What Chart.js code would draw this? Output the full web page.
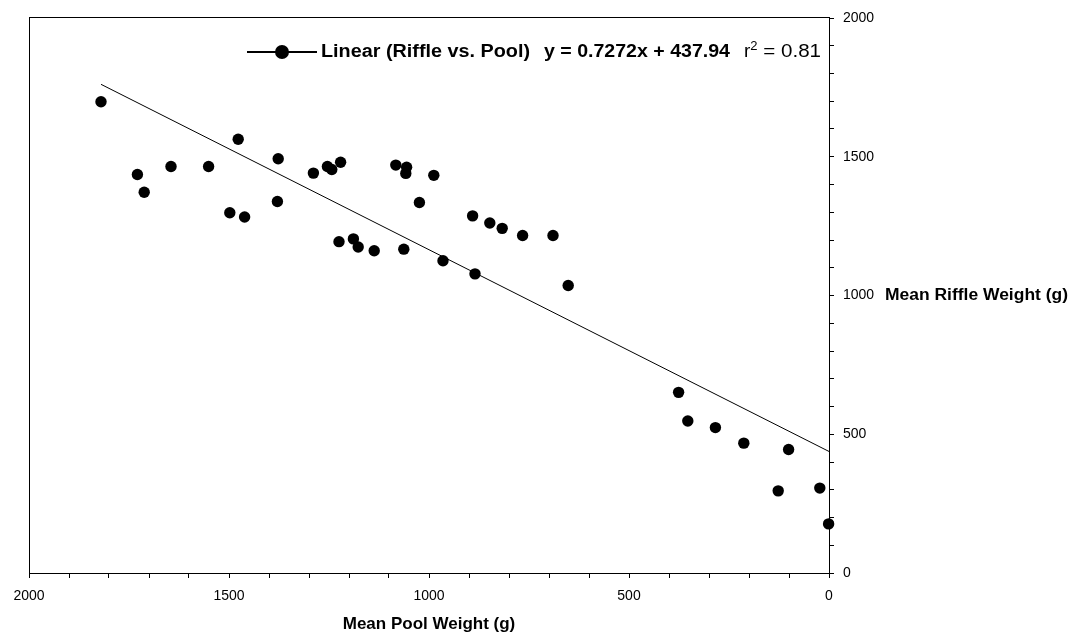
<!DOCTYPE html>
<html>
<head>
<meta charset="utf-8">
<script src="https://cdn.jsdelivr.net/npm/chart.js@4.4.1/dist/chart.umd.min.js"></script>
<style>
  html, body { margin: 0; padding: 0; background: #fff; }
</style>
</head>
<body>
<canvas id="riffleChart" width="1070" height="636"></canvas>
<script>
// Mean pool weight (x) vs mean riffle weight (y), grams
const poolWeight = [
  1820, 1729, 1712, 1645, 1551, 1477, 1498, 1461, 1377, 1379,
  1289, 1254, 1243, 1221, 1225, 1189, 1177, 1137, 1083, 1056,
  1058, 988, 1024, 1063, 965, 891, 848, 817, 766, 690,
  885, 652, 376, 353, 284, 213, 101, 127, 23, 1
];
const riffleWeight = [
  1698, 1436, 1372, 1465, 1465, 1563, 1298, 1283, 1493, 1339,
  1441, 1465, 1454, 1480, 1194, 1204, 1175, 1161, 1470, 1462,
  1440, 1433, 1335, 1167, 1125, 1287, 1261, 1242, 1216, 1216,
  1078, 1036, 651, 548, 524, 468, 445, 296, 306, 177
];

// trend line end points
const trendPool = [1820, 0];
const trendRiffle = [1761, 438];

const majorTicks = [0, 500, 1000, 1500, 2000];

const legendLabel = 'Linear (Riffle vs. Pool)';
const legendEquation = 'y = 0.7272x + 437.94';
const legendR2 = '0.81';
const xTitle = 'Mean Pool Weight (g)';
const yTitle = 'Mean Riffle Weight (g)';

const points = poolWeight.map((x, i) => ({ x: x, y: riffleWeight[i] }));
const trend = trendPool.map((x, i) => ({ x: x, y: trendRiffle[i] }));

// squeeze or stretch a string to a given width
function fitText(ctx, text, x, y, width) {
    const w = ctx.measureText(text).width;
    ctx.save();
    ctx.translate(x, y);
    ctx.scale(width / w, 1);
    ctx.fillText(text, 0, 0);
    ctx.restore();
}

const framePlugin = {
    id: 'frame',
    beforeDatasetsDraw(chart) {
        const { ctx, chartArea: a } = chart;
        ctx.save();
        ctx.strokeStyle = '#000';
        ctx.lineWidth = 1;
        ctx.strokeRect(Math.round(a.left) + 0.5, Math.round(a.top) - 0.5,
            Math.round(a.right - a.left), Math.round(a.bottom - a.top) + 1);
        ctx.restore();
    },
    afterDraw(chart) {
        const { ctx, scales } = chart;
        ctx.save();
        ctx.fillStyle = '#000';
        ctx.strokeStyle = '#000';

        // legend inside the plot
        const ly = 52;
        ctx.lineWidth = 2;
        ctx.beginPath();
        ctx.moveTo(247, ly);
        ctx.lineTo(317, ly);
        ctx.stroke();
        ctx.beginPath();
        ctx.arc(282, ly, 7, 0, Math.PI * 2);
        ctx.fill();

        ctx.textBaseline = 'middle';
        ctx.textAlign = 'left';
        ctx.font = 'bold 18px "Liberation Sans Narrow", "Liberation Sans", Arial, sans-serif';
        fitText(ctx, legendLabel, 321, ly, 209);
        fitText(ctx, legendEquation, 544, ly, 186);

        ctx.font = '19px "Liberation Sans", Arial, sans-serif';
        ctx.fillText('r', 744, ly);
        let rx = 744 + ctx.measureText('r').width;
        ctx.font = '13px "Liberation Sans", Arial, sans-serif';
        ctx.fillText('2', rx, ly - 6);
        rx += ctx.measureText('2').width;
        ctx.font = '19px "Liberation Sans", Arial, sans-serif';
        fitText(ctx, ' = ' + legendR2, rx, ly, 821 - rx);

        // y axis title, level with the 1000 tick
        ctx.font = 'bold 16px "Liberation Sans", Arial, sans-serif';
        fitText(ctx, yTitle, 885, scales.y.getPixelForValue(1000), 183);
        ctx.restore();
    }
};

new Chart(document.getElementById('riffleChart'), {
    type: 'scatter',
    data: {
        datasets: [{
            label: 'Riffle vs. Pool',
            data: points,
            backgroundColor: '#000',
            borderColor: '#000',
            pointRadius: 5.7,
            pointBorderWidth: 0,
            clip: false
        }, {
            label: 'Linear (Riffle vs. Pool)',
            data: trend,
            showLine: true,
            borderColor: '#000',
            borderWidth: 1,
            pointRadius: 0
        }]
    },
    options: {
        responsive: false,
        animation: false,
        devicePixelRatio: 1,
        layout: { padding: { left: 29, top: 18, right: 0, bottom: 0 } },
        plugins: {
            legend: { display: false },
            tooltip: { enabled: false }
        },
        scales: {
            x: {
                type: 'linear',
                position: 'bottom',
                reverse: true,
                min: 0,
                max: 2000,
                afterFit: function(scale) { scale.height = 63; },
                border: { color: '#000', width: 1 },
                grid: { drawOnChartArea: false, tickLength: 5, color: '#000' },
                ticks: {
                    stepSize: 100,
                    autoSkip: false,
                    maxRotation: 0,
                    padding: 10,
                    color: '#000',
                    font: { family: '"Liberation Sans", Arial, sans-serif', size: 14 },
                    callback: value => majorTicks.includes(value) ? String(value) : ''
                },
                title: {
                    display: true,
                    text: xTitle,
                    color: '#000',
                    font: { family: '"Liberation Sans", Arial, sans-serif', size: 17, weight: 'bold' },
                    padding: { top: 0, bottom: 1 }
                }
            },
            y: {
                type: 'linear',
                position: 'right',
                min: 0,
                max: 2000,
                afterFit: function(scale) { scale.width = 241; },
                border: { color: '#000', width: 1 },
                grid: { drawOnChartArea: false, tickLength: 5, color: '#000' },
                ticks: {
                    stepSize: 100,
                    autoSkip: false,
                    padding: 9,
                    color: '#000',
                    font: { family: '"Liberation Sans", Arial, sans-serif', size: 14 },
                    callback: value => majorTicks.includes(value) ? String(value) : ''
                }
            }
        }
    },
    plugins: [framePlugin]
});
</script>
</body>
</html>
